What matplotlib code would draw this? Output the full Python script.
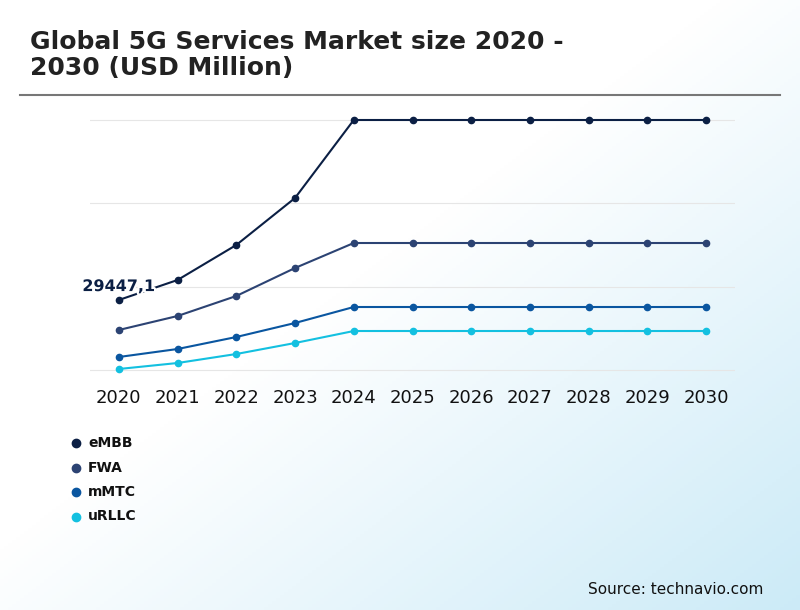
import matplotlib.pyplot as plt
import matplotlib.patheffects as pe
import numpy as np

years = [2020, 2021, 2022, 2023, 2024, 2025, 2026, 2027, 2028, 2029, 2030]
embb = [29447.1, 37861, 52585, 72358, 105175, 105175, 105175, 105175, 105175, 105175, 105175]
fwa = [16828, 22718, 31132, 42912, 53428, 53428, 53428, 53428, 53428, 53428, 53428]
mmtc = [5469, 8835, 13883, 19773, 26504, 26504, 26504, 26504, 26504, 26504, 26504]
urllc = [421, 2945, 6731, 11359, 16407, 16407, 16407, 16407, 16407, 16407, 16407]
names = ['eMBB', 'FWA', 'mMTC', 'uRLLC']
colors = ['#0b1f44', '#2c4373', '#0a56a0', '#13c0e0']
grid_vals = [0, 35058, 70117, 105175]

fig = plt.figure(figsize=(8, 6.1), dpi=100)

# light blue gradient in the background, strongest at bottom right
bg = fig.add_axes([0, 0, 1, 1], zorder=-10)
xx, yy = np.meshgrid(np.linspace(0, 1, 200), np.linspace(0, 1, 200))
t = np.clip((xx + yy) - 0.9, 0, 1.1) / 1.1
img = np.ones((200, 200, 3))
img[..., 0] = 1 - t * (1 - 0.80)
img[..., 1] = 1 - t * (1 - 0.92)
img[..., 2] = 1 - t * (1 - 0.97)
bg.imshow(img, extent=[0, 1, 0, 1], aspect='auto', origin='upper')
bg.axis('off')

fig.text(30 / 800, 1 - 55 / 610, 'Global 5G Services Market size 2020 -\n2030 (USD Million)',
         fontsize=18, fontweight='bold', color='#222222', va='center', ha='left', linespacing=1.1)
fig.add_artist(plt.Line2D([20 / 800, 780 / 800], [1 - 95 / 610] * 2, color='#777777', lw=1.5))

ax = fig.add_axes([90 / 800, 1 - 375 / 610, 645 / 800, 263 / 610])
ax.patch.set_alpha(0)
for v in grid_vals:
    ax.axhline(v, color='#e6e6e6', lw=0.8, zorder=0)
for vals, c in zip([embb, fwa, mmtc, urllc], colors):
    ax.plot(years, vals, color=c, lw=1.5, marker='o', ms=4.5)
ax.set_xlim(2019.51, 2030.49)
ax.set_ylim(-2100, 108540)
ax.set_xticks(years)
ax.set_xticklabels([str(y) for y in years], fontsize=13, color='#111111')
ax.tick_params(length=0, pad=10)
ax.set_yticks([])
for s in ax.spines.values():
    s.set_visible(False)
ax.text(2020, embb[0] + 2500, '29447,1', fontsize=11.5, fontweight='bold', color='#0b1f44',
        ha='center', va='bottom',
        path_effects=[pe.withStroke(linewidth=3, foreground='white')])

for i, (n, c) in enumerate(zip(names, colors)):
    y = 1 - (443 + i * 24.5) / 610
    fig.add_artist(plt.Line2D([76 / 800], [y], marker='o', ms=6, color=c))
    fig.text(88 / 800, y, n, fontsize=10, fontweight='bold', color='#111111', va='center')

fig.text(763 / 800, 1 - 589 / 610, 'Source: technavio.com', fontsize=11, ha='right', va='center', color='#111111')

fig.savefig('out.png', dpi=100)
